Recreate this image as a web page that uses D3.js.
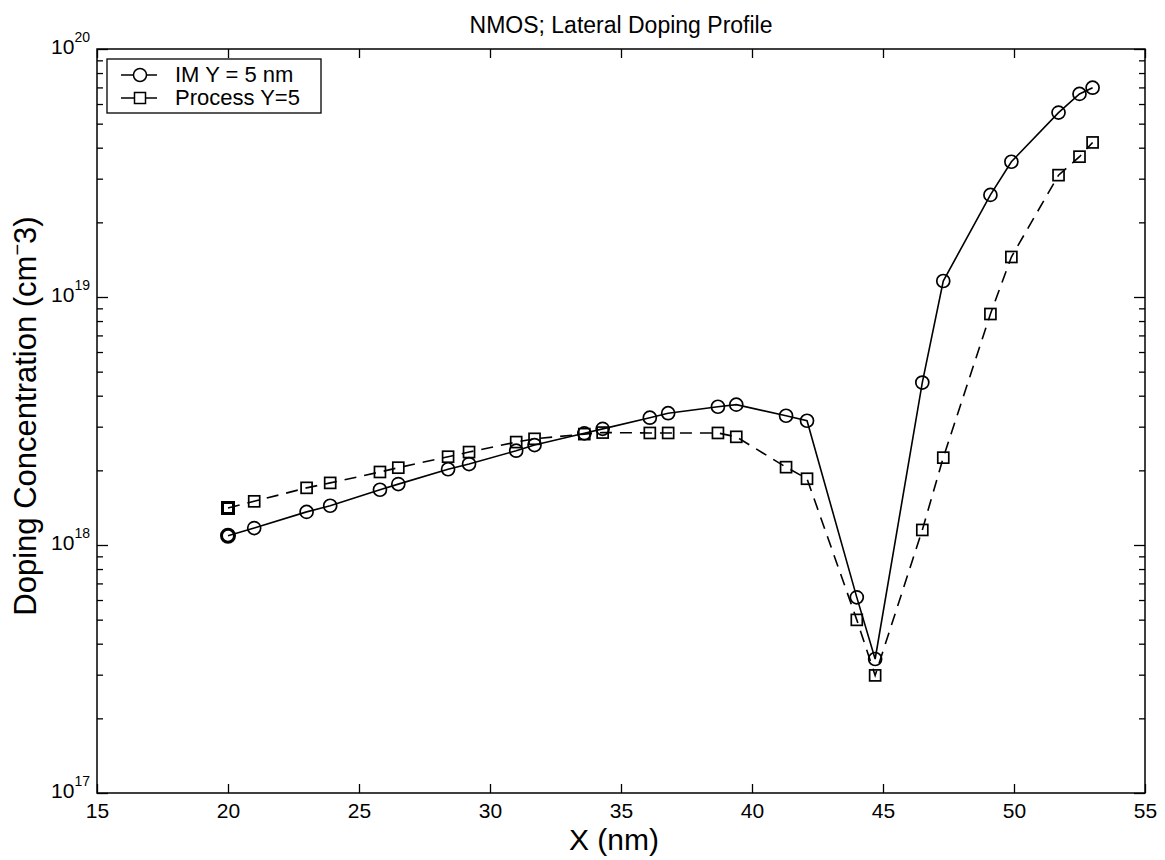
<!DOCTYPE html>
<html>
<head>
<meta charset="utf-8">
<script src="https://cdn.jsdelivr.net/npm/d3@7"></script>
<style>
  body { margin: 0; background: #fff; }
  text { font-family: "Liberation Sans", Arial, sans-serif; fill: #000; }
</style>
</head>
<body>
<script>
// values
const xIM = [20, 21, 23, 23.9, 25.8, 26.5, 28.4, 29.2, 31, 31.7, 33.6, 34.3, 36.1, 36.8,
             38.7, 39.4, 41.3, 42.1, 44, 44.7, 46.5, 47.3, 49.1, 49.9, 51.7, 52.5, 53];
const yIM = [1.09e18, 1.17e18, 1.36e18, 1.44e18, 1.67e18, 1.76e18, 2.02e18, 2.12e18, 2.40e18, 2.53e18,
             2.82e18, 2.94e18, 3.26e18, 3.40e18, 3.61e18, 3.68e18, 3.32e18, 3.17e18, 6.15e17, 3.47e17,
             4.52e18, 1.16e19, 2.58e19, 3.51e19, 5.54e19, 6.59e19, 6.98e19];
const xProc = xIM;
const yProc = [1.41e18, 1.50e18, 1.70e18, 1.78e18, 1.97e18, 2.05e18, 2.27e18, 2.37e18, 2.60e18, 2.68e18,
               2.80e18, 2.84e18, 2.83e18, 2.83e18, 2.83e18, 2.73e18, 2.06e18, 1.85e18, 4.99e17, 2.98e17,
               1.15e18, 2.25e18, 8.54e18, 1.45e19, 3.10e19, 3.68e19, 4.20e19];
const xTicks = [15, 20, 25, 30, 35, 40, 45, 50, 55];
const yDecades = [17, 18, 19, 20];
const legendLabels = ["IM Y = 5 nm", "Process Y=5"];

var width = 1165, height = 860;
const L = 97, R = 1145, T = 49, B = 793;

const x = d3.scaleLinear().domain([15, 55]).range([L, R]);
const y = d3.scaleLog().domain([1e17, 1e20]).range([B, T]);

var svg = d3.select("body").append("svg")
  .attr("width", width).attr("height", height);

// minor log ticks
var minor = [];
for (let d = 17; d < 20; d++) {
  for (let m = 2; m <= 9; m++) minor.push(m * Math.pow(10, d));
}
const major = yDecades.map(d => Math.pow(10, d));

function styleAxis(g) {
  g.select(".domain").remove();
  g.selectAll("line").attr("stroke", "#000").attr("stroke-width", 1.3);
}

svg.append("g").attr("transform", `translate(0,${B})`)
  .call(d3.axisBottom(x).tickValues(xTicks).tickSize(-9).tickPadding(10).tickFormat(d3.format("d")))
  .call(styleAxis)
  .selectAll("text").attr("font-size", 21).attr("font-family", "Liberation Sans, Arial, sans-serif");
svg.append("g").attr("transform", `translate(0,${T})`)
  .call(d3.axisTop(x).tickValues(xTicks).tickSize(-9).tickFormat(""))
  .call(styleAxis);

svg.append("g").attr("transform", `translate(${L},0)`)
  .call(d3.axisLeft(y).tickValues(major).tickSize(-11).tickFormat(""))
  .call(styleAxis);
svg.append("g").attr("transform", `translate(${L},0)`)
  .call(d3.axisLeft(y).tickValues(minor).tickSize(-6).tickFormat(""))
  .call(styleAxis);
svg.append("g").attr("transform", `translate(${R},0)`)
  .call(d3.axisRight(y).tickValues(major).tickSize(-11).tickFormat(""))
  .call(styleAxis);
svg.append("g").attr("transform", `translate(${R},0)`)
  .call(d3.axisRight(y).tickValues(minor).tickSize(-6).tickFormat(""))
  .call(styleAxis);

// box
svg.append("rect").attr("x", L).attr("y", T).attr("width", R - L).attr("height", B - T)
  .attr("fill", "none").attr("stroke", "#000").attr("stroke-width", 1.5);

// y tick labels 10^n
const ylab = svg.append("g").selectAll("text").data(yDecades).join("text")
  .attr("x", L - 7).attr("y", d => y(Math.pow(10, d)) + 5)
  .attr("text-anchor", "end").attr("font-size", 21);
ylab.append("tspan").text("10");
ylab.append("tspan").attr("dy", -12).attr("font-size", 14).text(d => d);

// lines
const line = d3.line().x(d => x(d[0])).y(d => y(d[1]));
const imData = xIM.map((v, i) => [v, yIM[i]]);
const procData = xProc.map((v, i) => [v, yProc[i]]);

svg.append("path").datum(imData).attr("d", line)
  .attr("fill", "none").attr("stroke", "#000").attr("stroke-width", 1.6);
svg.append("path").datum(procData).attr("d", line)
  .attr("fill", "none").attr("stroke", "#000").attr("stroke-width", 1.6)
  .attr("stroke-dasharray", "12,8");

svg.append("g").selectAll("circle").data(imData).join("circle")
  .attr("cx", d => x(d[0])).attr("cy", d => y(d[1])).attr("r", 6.5)
  .attr("fill", "none").attr("stroke", "#000").attr("stroke-width", (d, i) => i === 0 ? 3 : 1.7);
svg.append("g").selectAll("rect").data(procData).join("rect")
  .attr("x", d => x(d[0]) - 5.5).attr("y", d => y(d[1]) - 5.5)
  .attr("width", 11).attr("height", 11)
  .attr("fill", "none").attr("stroke", "#000").attr("stroke-width", (d, i) => i === 0 ? 3 : 1.7);

// legend
const lg = svg.append("g");
lg.append("rect").attr("x", 107).attr("y", 59).attr("width", 214).attr("height", 54)
  .attr("fill", "#fff").attr("stroke", "#000").attr("stroke-width", 1.3);
legendLabels.forEach((t, i) => {
  const ly = 75 + i * 23;
  lg.append("line").attr("x1", 121).attr("x2", 157).attr("y1", ly).attr("y2", ly)
    .attr("stroke", "#000").attr("stroke-width", 1.5);
  if (i === 0) {
    lg.append("circle").attr("cx", 140).attr("cy", ly).attr("r", 6.5)
      .attr("fill", "#fff").attr("stroke", "#000").attr("stroke-width", 1.5);
  } else {
    lg.append("rect").attr("x", 134.5).attr("y", ly - 5.5).attr("width", 11).attr("height", 11)
      .attr("fill", "#fff").attr("stroke", "#000").attr("stroke-width", 1.5);
  }
  lg.append("text").attr("x", 175).attr("y", ly + 7).attr("font-size", 22).text(t);
});

// titles
svg.append("text").attr("x", (L + R) / 2).attr("y", 33).attr("text-anchor", "middle")
  .attr("font-size", 23).text("NMOS; Lateral Doping Profile");
svg.append("text").attr("x", 614).attr("y", 850).attr("text-anchor", "middle")
  .attr("font-size", 30).text("X (nm)");
const yl = svg.append("text").attr("transform", `translate(36,416) rotate(-90)`)
  .attr("text-anchor", "middle").attr("font-size", 31);
yl.append("tspan").text("Doping Concentration (cm");
yl.append("tspan").attr("dy", -12).attr("font-size", 20).text("\u2212");
yl.append("tspan").attr("dy", 12).text("3)");
</script>
</body>
</html>
